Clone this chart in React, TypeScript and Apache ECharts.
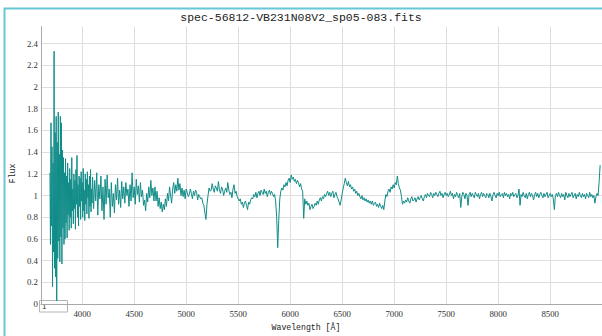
import React, { useEffect, useRef } from "react";
import * as echarts from "echarts";

const titleText = "spec-56812-VB231N08V2_sp05-083.fits";
const xName = "Wavelength [Å]";
const yName = "Flux";

// [wavelength (Å), flux]
const blueEdge: [number, number][] = [
  [3690, 1.21], [3695, 0.55], [3700, 1.67], [3705, 0.72], [3710, 1.45], [3715, 0.16], [3720, 1.3], [3725, 0.48],
  [3730, 2.33], [3735, 0.33], [3740, 1.58], [3745, 0.25], [3750, 1.73], [3755, 0.03], [3760, 1.49], [3765, 0.42],
  [3770, 1.77], [3775, 0.58], [3780, 1.38], [3785, 0.39], [3790, 1.73], [3795, 0.62], [3800, 1.67], [3805, 0.37],
  [3810, 1.42], [3815, 0.7], [3820, 1.35], [3825, 0.55], [3830, 1.21], [3835, 0.6], [3840, 1.34], [3845, 0.75],
  [3850, 1.18], [3855, 0.61], [3860, 1.3], [3865, 0.82], [3870, 1.12], [3875, 0.68], [3880, 1.25], [3885, 0.8],
  [3890, 1.15], [3895, 0.7], [3900, 1.35], [3905, 0.86], [3910, 1.06], [3915, 0.74], [3920, 1.2], [3925, 0.88],
  [3930, 1.14], [3935, 0.69], [3940, 1.24], [3945, 0.92], [3950, 1.37], [3955, 0.8], [3960, 1.1], [3965, 0.72],
  [3970, 1.18], [3975, 0.9], [3980, 1.16], [3985, 0.78], [3990, 1.22], [3995, 0.95], [4000, 1.12], [4005, 0.8],
  [4010, 1.25], [4015, 0.86], [4020, 1.05], [4025, 0.77], [4030, 1.2], [4035, 0.92], [4040, 1.15], [4045, 0.83],
  [4050, 1.22], [4055, 0.98], [4060, 1.1], [4065, 0.79], [4070, 1.18], [4075, 0.9], [4080, 1.24], [4085, 0.85],
  [4090, 1.06], [4095, 0.93], [4100, 1.17],
];

const blueGreen: [number, number][] = [
  [4110, 0.88], [4120, 1.14], [4130, 0.95], [4140, 1.21], [4150, 0.82], [4160, 1.1], [4170, 0.97], [4180, 1.18],
  [4190, 0.86], [4200, 1.08], [4210, 0.78], [4220, 1.15], [4230, 0.92], [4240, 1.19], [4250, 0.98], [4260, 1.06],
  [4270, 0.8], [4280, 1.12], [4290, 0.9], [4300, 1.02], [4310, 0.84], [4320, 1.1], [4330, 0.96], [4340, 1.16],
  [4350, 0.92], [4360, 1.05], [4370, 0.89], [4380, 1.13], [4390, 0.97], [4400, 1.08], [4410, 0.93], [4420, 1.12],
  [4430, 1.0], [4440, 1.06], [4450, 0.9], [4460, 1.1], [4470, 0.95], [4480, 1.21], [4490, 0.98], [4500, 1.08],
  [4510, 0.92], [4520, 1.15], [4530, 1.01], [4540, 1.09], [4550, 0.94], [4560, 1.12], [4570, 0.99], [4580, 1.05],
  [4590, 0.91], [4600, 0.96], [4610, 0.86], [4620, 1.02], [4630, 0.94], [4640, 1.08], [4650, 0.98], [4660, 1.14],
  [4670, 1.0], [4680, 1.07], [4690, 0.95], [4700, 1.08], [4710, 0.95], [4720, 1.04], [4730, 0.9], [4740, 0.98],
  [4750, 0.88], [4760, 0.94], [4770, 0.85], [4780, 0.92], [4790, 0.87], [4800, 0.97], [4810, 0.9], [4820, 1.02],
  [4830, 0.95], [4840, 1.08], [4850, 1.0], [4860, 0.93], [4870, 1.06], [4880, 1.12], [4890, 1.02], [4900, 1.1],
  [4910, 1.04], [4920, 1.16], [4930, 1.05], [4940, 1.11], [4950, 1.0], [4960, 1.07], [4970, 0.99], [4980, 1.05],
  [4990, 0.97], [5000, 1.06],
];

const greenRed: [number, number][] = [
  [5010, 1.03], [5020, 0.99], [5030, 1.01], [5040, 1.06], [5050, 1.02], [5060, 0.97], [5070, 1.04], [5080, 1.0],
  [5090, 1.05], [5100, 1.03], [5110, 0.96], [5120, 1.01], [5130, 0.99], [5140, 0.97], [5150, 0.98], [5160, 0.93],
  [5170, 0.91], [5180, 0.84], [5190, 0.78], [5200, 0.92], [5210, 1.0], [5220, 1.07], [5230, 1.04], [5240, 1.05],
  [5250, 1.11], [5260, 1.06], [5270, 1.03], [5280, 1.09], [5290, 1.07], [5300, 1.04], [5310, 1.13], [5320, 1.05],
  [5330, 1.02], [5340, 1.08], [5350, 1.06], [5360, 1.0], [5370, 1.04], [5380, 1.07], [5390, 1.03], [5400, 1.12],
  [5410, 1.05], [5420, 1.01], [5430, 1.03], [5440, 0.98], [5450, 1.06], [5460, 1.1], [5470, 1.02], [5480, 1.04],
  [5490, 0.99], [5500, 0.97], [5510, 0.95], [5520, 0.97], [5530, 0.92], [5540, 0.94], [5550, 0.89], [5560, 0.93],
  [5570, 0.95], [5580, 0.91], [5590, 0.87], [5600, 0.94], [5610, 0.92], [5620, 0.96], [5630, 0.98], [5640, 0.97],
  [5650, 1.01], [5660, 0.99], [5670, 1.03], [5680, 0.98], [5690, 1.02], [5700, 1.04], [5710, 1.0], [5720, 1.05],
  [5730, 1.03], [5740, 1.01], [5750, 1.06], [5760, 1.02], [5770, 1.04], [5780, 0.99], [5790, 1.03], [5800, 1.05],
  [5810, 1.01], [5820, 1.04], [5830, 1.02], [5840, 0.99], [5850, 1.01], [5860, 0.95], [5870, 0.8], [5880, 0.52],
  [5890, 0.77], [5900, 0.97], [5910, 1.04], [5920, 1.07], [5930, 1.05], [5940, 1.1], [5950, 1.08], [5960, 1.12],
  [5970, 1.09], [5980, 1.14], [5990, 1.16], [6000, 1.12], [6010, 1.19], [6020, 1.15], [6030, 1.17], [6040, 1.13],
  [6050, 1.15], [6060, 1.11], [6070, 1.14], [6080, 1.12], [6090, 1.08], [6100, 1.11], [6110, 1.06], [6120, 1.04],
  [6130, 0.79], [6140, 0.97], [6150, 0.92], [6160, 0.95], [6170, 0.91], [6180, 0.93], [6190, 0.87], [6200, 0.9],
  [6210, 0.92], [6220, 0.88], [6230, 0.9], [6240, 0.93], [6250, 0.91], [6260, 0.95], [6270, 0.92], [6280, 0.96],
  [6290, 0.98], [6300, 0.95], [6310, 0.99], [6320, 0.97], [6330, 1.01], [6340, 0.99], [6350, 1.02], [6360, 1.04],
  [6370, 1.0], [6380, 1.03], [6390, 0.99], [6400, 1.02], [6410, 1.04], [6420, 0.98], [6430, 1.01], [6440, 1.03],
  [6450, 0.99], [6460, 0.97], [6470, 0.94], [6480, 0.91], [6490, 0.96], [6500, 1.02], [6510, 1.07], [6520, 1.11],
  [6530, 1.16], [6540, 1.12], [6550, 1.09], [6560, 1.13], [6570, 1.08], [6580, 1.1], [6590, 1.06], [6600, 1.08],
  [6610, 1.04], [6620, 1.06], [6630, 1.02], [6640, 1.04], [6650, 1.0], [6660, 1.02], [6670, 0.99], [6680, 0.97],
  [6690, 1.0], [6700, 0.96], [6710, 0.98], [6720, 0.95], [6730, 0.97], [6740, 0.94], [6750, 0.96], [6760, 0.93],
  [6770, 0.95], [6780, 0.92], [6790, 0.95], [6800, 0.91], [6810, 0.93], [6820, 0.94], [6830, 0.9], [6840, 0.92],
  [6850, 0.89], [6860, 0.93], [6870, 0.9], [6880, 0.88], [6890, 0.91], [6900, 0.87], [6910, 0.95], [6920, 1.01],
  [6930, 0.99], [6940, 1.04], [6950, 1.06], [6960, 1.03], [6970, 1.08], [6980, 1.06], [6990, 1.1], [7000, 1.07],
  [7010, 1.12], [7020, 1.1], [7030, 1.18], [7040, 1.11], [7050, 1.07], [7060, 1.05], [7070, 0.99], [7080, 0.92],
  [7090, 0.95], [7100, 0.93],
];

const nearIr: [number, number][] = [
  [7110, 0.96], [7120, 0.94], [7130, 0.98], [7140, 0.95], [7150, 0.93], [7160, 0.97], [7170, 0.99], [7180, 0.95],
  [7190, 0.96], [7200, 0.98], [7210, 0.94], [7220, 0.97], [7230, 0.99], [7240, 0.96], [7250, 0.98], [7260, 1.0],
  [7270, 0.97], [7280, 0.95], [7290, 0.99], [7300, 1.01], [7310, 0.98], [7320, 1.02], [7330, 1.0], [7340, 0.99],
  [7350, 1.03], [7360, 1.01], [7370, 0.98], [7380, 1.02], [7390, 1.0], [7400, 1.03], [7410, 1.01], [7420, 0.99],
  [7430, 1.02], [7440, 1.04], [7450, 1.0], [7460, 1.02], [7470, 0.98], [7480, 1.01], [7490, 1.03], [7500, 1.0],
  [7510, 1.02], [7520, 0.99], [7530, 1.01], [7540, 1.04], [7550, 1.0], [7560, 1.02], [7570, 0.97], [7580, 1.01],
  [7590, 0.99], [7600, 1.03], [7610, 1.0], [7620, 0.98], [7630, 1.02], [7640, 0.89], [7650, 0.99], [7660, 1.03],
  [7670, 1.01], [7680, 0.97], [7690, 1.02], [7700, 1.0], [7710, 0.91], [7720, 1.01], [7730, 1.03], [7740, 0.99],
  [7750, 1.02], [7760, 1.0], [7770, 0.98], [7780, 1.03], [7790, 1.01], [7800, 0.99], [7810, 1.02], [7820, 0.97],
  [7830, 1.01], [7840, 1.03], [7850, 0.99], [7860, 1.02], [7870, 1.0], [7880, 0.98], [7890, 1.02], [7900, 1.01],
  [7910, 0.98], [7920, 1.02], [7930, 0.99], [7940, 0.95], [7950, 1.01], [7960, 1.03], [7970, 1.0], [7980, 0.98],
  [7990, 1.02], [8000, 1.0], [8010, 1.03], [8020, 0.99], [8030, 1.01], [8040, 1.02], [8050, 0.98], [8060, 1.03],
  [8070, 1.0], [8080, 1.02], [8090, 0.99], [8100, 1.01], [8110, 0.97], [8120, 1.02], [8130, 1.0], [8140, 1.03],
  [8150, 0.99], [8160, 1.01], [8170, 1.02], [8180, 0.98], [8190, 1.0], [8200, 1.06], [8210, 0.91], [8220, 1.01],
  [8230, 0.99], [8240, 1.03], [8250, 1.0], [8260, 0.98], [8270, 1.02], [8280, 0.97], [8290, 1.01], [8300, 1.03],
  [8310, 0.99], [8320, 1.02], [8330, 1.0], [8340, 0.96], [8350, 1.01], [8360, 1.03], [8370, 0.99], [8380, 1.02],
  [8390, 0.98], [8400, 1.01], [8410, 1.03], [8420, 1.0], [8430, 0.98], [8440, 1.02], [8450, 0.99], [8460, 1.01],
  [8470, 1.03], [8480, 0.98], [8490, 1.0], [8500, 1.02], [8510, 0.99], [8520, 1.01], [8530, 0.97], [8540, 0.87],
  [8550, 1.0], [8560, 1.02], [8570, 0.99], [8580, 1.03], [8590, 1.0], [8600, 0.98], [8610, 1.02], [8620, 0.99],
  [8630, 1.01], [8640, 0.96], [8650, 1.03], [8660, 1.0], [8670, 0.98], [8680, 1.02], [8690, 0.99], [8700, 1.01],
  [8710, 1.03], [8720, 0.98], [8730, 1.0], [8740, 1.02], [8750, 0.97], [8760, 1.01], [8770, 0.99], [8780, 1.03],
  [8790, 1.0], [8800, 0.98], [8810, 1.02], [8820, 0.99], [8830, 1.01], [8840, 0.97], [8850, 1.02], [8860, 1.0],
  [8870, 0.98], [8880, 1.03], [8890, 0.99], [8900, 1.01], [8910, 0.98], [8920, 1.0], [8930, 0.93], [8940, 0.99],
  [8950, 1.02], [8960, 1.0], [8970, 1.12], [8980, 1.28],
];

const boxLabel = "1";

export default function App() {
  const ref = useRef<HTMLDivElement>(null);
  useEffect(() => {
    if (!ref.current) return;
    const chart = echarts.init(ref.current, undefined, { renderer: "svg" });
    const spectrum = [...blueEdge, ...blueGreen, ...greenRed, ...nearIr];
    chart.setOption({
      animation: false,
      backgroundColor: "#ffffff",
      title: {
        text: titleText,
        left: "center",
        top: 11,
        padding: 0,
        textStyle: { fontFamily: "Liberation Mono", fontSize: 11.5, fontWeight: "normal", color: "#222" },
      },
      grid: { left: 39.3, top: 26.7, width: 562.7, height: 287, containLabel: false },
      xAxis: {
        type: "value",
        min: 3603,
        max: 8998,
        splitNumber: 10,
        minInterval: 500,
        maxInterval: 500,
        name: xName,
        nameLocation: "middle",
        nameGap: 16,
        nameTextStyle: { fontFamily: "Liberation Mono", fontSize: 8.2, color: "#222", padding: [0, 31, 0, 0] },
        axisLine: { show: true, lineStyle: { color: "#a8a8a8", width: 1 } },
        axisTick: { show: false },
        axisLabel: {
          fontFamily: "Liberation Serif",
          fontSize: 8.8,
          color: "#333",
          margin: 5,
          showMinLabel: false,
          showMaxLabel: false,
          formatter: (v: number) => String(v),
        },
        splitLine: { show: true, showMinLine: false, showMaxLine: false, lineStyle: { color: "#dedede", width: 1 } },
      },
      yAxis: {
        type: "value",
        min: 0,
        max: 2.556,
        splitNumber: 13,
        minInterval: 0.2,
        maxInterval: 0.2,
        name: yName,
        nameLocation: "middle",
        nameGap: 23,
        nameTextStyle: { fontFamily: "Liberation Mono", fontSize: 8.2, color: "#222", padding: [0, 16, 0, 0] },
        axisLine: { show: true, lineStyle: { color: "#a8a8a8", width: 1 } },
        axisTick: { show: false },
        axisLabel: {
          fontFamily: "Liberation Serif",
          fontSize: 8.8,
          color: "#333",
          margin: 3,
          showMaxLabel: false,
        },
        splitLine: { show: true, showMinLine: false, showMaxLine: false, lineStyle: { color: "#dedede", width: 1 } },
      },
      series: [
        {
          type: "line",
          data: spectrum,
          showSymbol: false,
          symbol: "none",
          lineStyle: { color: "#118c88", width: 1 },
          itemStyle: { color: "#118c88" },
          silent: true,
        },
      ],
      graphic: [
        {
          type: "rect",
          z: 100,
          shape: { x: 4.5, y: 8.5, width: 700, height: 400 },
          style: { fill: "none", stroke: "#66c7d6", lineWidth: 2 },
          silent: true,
        },
        {
          type: "group",
          z: 100,
          children: [
            {
              type: "rect",
              shape: { x: 39.5, y: 300.5, width: 28, height: 11.5 },
              style: { fill: "#ffffff", stroke: "#b4b4b4", lineWidth: 1 },
            },
            {
              type: "text",
              x: 42,
              y: 306.5,
              style: { text: boxLabel, fontFamily: "Liberation Sans", fontSize: 8, fill: "#333", verticalAlign: "middle" },
            },
          ],
        },
      ],
    });
    return () => chart.dispose();
  }, []);
  return <div ref={ref} style={{ position: "absolute", left: 0, top: 0, width: 602, height: 336 }} />;
}
